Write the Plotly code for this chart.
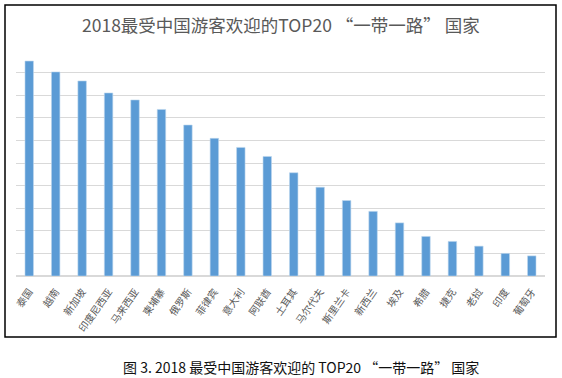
import plotly.graph_objects as go

countries = ["泰国", "越南", "新加坡", "印度尼西亚", "马来西亚", "柬埔寨", "俄罗斯", "菲律宾",
             "意大利", "阿联酋", "土耳其", "马尔代夫", "斯里兰卡", "新西兰", "埃及", "希腊",
             "捷克", "老挝", "印度", "葡萄牙"]
values = [9.51, 9.03, 8.63, 8.10, 7.79, 7.37, 6.68, 6.09, 5.69, 5.29,
          4.57, 3.93, 3.34, 2.86, 2.35, 1.75, 1.53, 1.32, 1.00, 0.89]

title_text = "2018最受中国游客欢迎的TOP20 “一带一路” 国家"
caption_text = "图 3. 2018 最受中国游客欢迎的 TOP20 “一带一路” 国家"

FONT = "Noto Sans CJK SC"

fig = go.Figure()
fig.add_trace(go.Bar(
    x=countries, y=values,
    marker=dict(color="#5B9BD5", line=dict(color="#BDD7EE", width=0.6)),
    width=0.32,
))

W, H = 562, 378
L, R, T, B = 16, 17, 50, 102
pw, ph = W - L - R, H - T - B

def px(x):
    return (x - L) / pw

def py(y):
    return (H - B - y) / ph

fig.update_layout(
    width=W, height=H,
    margin=dict(l=L, r=R, t=T, b=B, autoexpand=False),
    paper_bgcolor="white", plot_bgcolor="white",
    showlegend=False,
    font=dict(family=FONT, color="#595959"),
    xaxis=dict(
        tickangle=-55, tickfont=dict(size=10, color="#595959", family=FONT),
        showgrid=False, showline=True, linecolor="#D9D9D9", linewidth=1,
        ticks="outside", ticklen=5, tickcolor="rgba(0,0,0,0)", fixedrange=True,
        automargin=False,
    ),
    yaxis=dict(
        range=[0, 10], dtick=1, showticklabels=False, showgrid=True,
        gridcolor="#D9D9D9", gridwidth=1, zeroline=True, zerolinecolor="#D9D9D9",
        showline=False, ticks="", fixedrange=True, automargin=False,
    ),
    shapes=[dict(
        type="rect", xref="paper", yref="paper",
        x0=px(5), x1=px(556), y0=py(337), y1=py(5),
        line=dict(color="black", width=1.5), fillcolor="rgba(0,0,0,0)", layer="above",
    )],
    annotations=[
        dict(text=title_text, xref="paper", yref="paper", x=px(281), y=py(24),
             xanchor="center", yanchor="middle", showarrow=False,
             font=dict(size=17.5, color="#595959", family=FONT)),
        dict(text=caption_text, xref="paper", yref="paper", x=px(301), y=py(367),
             xanchor="center", yanchor="middle", showarrow=False,
             font=dict(size=14, color="#111111", family=FONT)),
    ],
)

fig.write_html("out.html", config={"displayModeBar": False},
               post_script="document.body.style.margin='0';document.body.style.overflow='hidden';")
